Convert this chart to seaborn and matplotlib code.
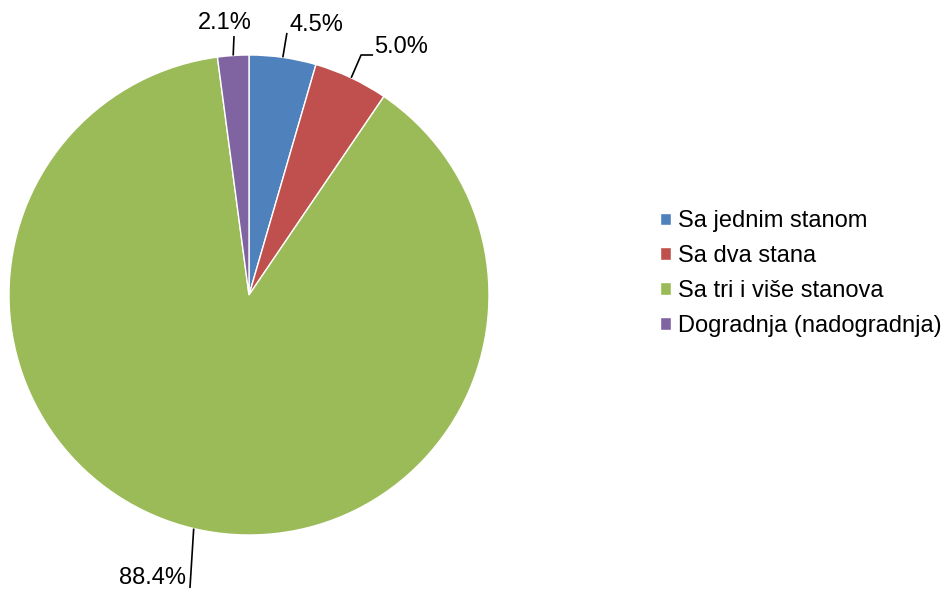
import numpy as np
import matplotlib
matplotlib.use("Agg")
import matplotlib.pyplot as plt
import seaborn as sns

categories = ["Sa jednim stanom", "Sa dva stana", "Sa tri i više stanova", "Dogradnja (nadogradnja)"]
shares = [4.5, 5.0, 88.4, 2.1]
label_texts = ["4.5%", "5.0%", "88.4%", "2.1%"]
colors = ["#4F81BD", "#C0504D", "#9BBB59", "#8064A2"]

sns.set_style("white")
plt.rcParams["font.family"] = ["Liberation Sans", "DejaVu Sans"]
plt.rcParams["text.color"] = "black"

fig = plt.figure(figsize=(9.45, 5.9), dpi=100)
ax = fig.add_axes([249 / 945 - 240 / 945, (590 - 295 - 240) / 590, 480 / 945, 480 / 590])

wedges, _ = ax.pie(shares, colors=colors, startangle=90, counterclock=False,
                   radius=1.0, wedgeprops=dict(edgecolor="white", linewidth=1.0))
ax.set_xlim(-1, 1)
ax.set_ylim(-1, 1)
ax.set_aspect("equal")
ax.axis("off")

# leader line path and text placement per slice
leader_ends = [[(0.158, 1.092)], [(0.467, 1.0), (0.517, 1.0)], [(-0.246, -1.221)], [(-0.0625, 1.079)]]
text_pos = [(0.279, 1.125), (0.635, 1.033), (-0.404, -1.179), (-0.10, 1.133)]

for w, ends, tp, txt in zip(wedges, leader_ends, text_pos, label_texts):
    mid = np.deg2rad((w.theta1 + w.theta2) / 2)
    start = (np.cos(mid), np.sin(mid))
    pts = [start] + ends
    ax.plot([p[0] for p in pts], [p[1] for p in pts], color="black", lw=1.2,
            clip_on=False, solid_capstyle="butt")
    ax.text(tp[0], tp[1], txt, ha="center", va="center", fontsize=17, color="black")

fig.legend(wedges, categories, loc="center left", bbox_to_anchor=(660 / 945, 1 - 273.5 / 590),
           frameon=False, fontsize=17, handlelength=0.45, handleheight=0.45,
           handletextpad=0.32, labelspacing=0.54, borderpad=0, borderaxespad=0)

fig.savefig("out.png", dpi=100)
